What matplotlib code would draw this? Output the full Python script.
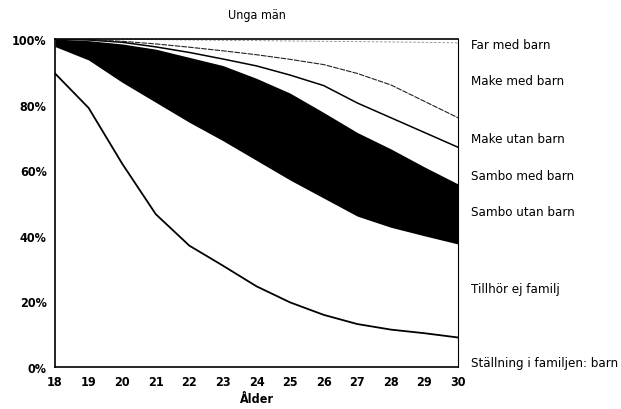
import numpy as np
import matplotlib
matplotlib.use("Agg")
import matplotlib.pyplot as plt
from matplotlib import font_manager

ages = [18, 19, 20, 21, 22, 23, 24, 25, 26, 27, 28, 29, 30]
barn = [89.5, 79, 62, 46.6, 37, 30.9, 24.6, 19.7, 15.9, 13.1, 11.4, 10.3, 9.0]
tillhor_ej = [8.2, 14.6, 24.8, 34.1, 37.6, 38.1, 38.4, 37.3, 35.6, 32.9, 31.2, 29.7, 28.5]
sambo_utan = [2.3, 5.9, 11.7, 16.2, 19.8, 22.9, 25.0, 26.5, 26.1, 25.5, 23.9, 21.0, 18.3]
sambo_med = [0, 0.2, 0.5, 0.7, 1.5, 2.0, 3.8, 5.5, 8.2, 9.0, 9.5, 10.5, 11.2]
make_utan = [0, 0.1, 0.3, 0.9, 1.6, 2.5, 3.4, 4.8, 6.4, 9.0, 10.0, 9.5, 9.0]
make_med = [0, 0.2, 0.6, 1.3, 2.2, 3.2, 4.3, 5.6, 7.1, 9.7, 13.1, 18.0, 22.8]
far_med = [0, 0, 0.1, 0.2, 0.3, 0.4, 0.5, 0.6, 0.7, 0.8, 0.9, 1.0, 1.2]

series_labels = ["Ställning i familjen: barn", "Tillhör ej familj", "Sambo utan barn",
                 "Sambo med barn", "Make utan barn", "Make med barn", "Far med barn"]
label_y = [1.5, 23.8, 47.3, 58.5, 69.8, 87.2, 98.2]
yticks = [0, 20, 40, 60, 80, 100]
ytick_labels = ["0%", "20%", "40%", "60%", "80%", "100%"]

cond = [f for f in font_manager.fontManager.ttflist
        if f.name == 'DejaVu Sans' and 'ondensed' in (f.fname or '')]
plt.rcParams['font.family'] = ['DejaVu Sans']
plt.rcParams['font.stretch'] = 'condensed' if cond else 'normal'

fig = plt.figure(figsize=(6.21, 4.10), dpi=100)
ax = fig.add_axes([55/621, 1-368/410, (458-55)/621, (368-40)/410])

x = np.array(ages)
layers = [barn, tillhor_ej, sambo_utan, sambo_med, make_utan, make_med, far_med]
cum = np.cumsum(np.array(layers, dtype=float), axis=0)

ax.fill_between(x, cum[1], cum[2], color='black', lw=0)
ax.plot(x, cum[0], color='black', lw=1.3)
ax.plot(x, cum[3], color='black', lw=1.1)
ax.plot(x, cum[4], color='#222222', lw=0.8, ls=(0, (5, 1)))
ax.plot(x, cum[5], color='#888888', lw=0.6, ls=(0, (3, 2)))

ax.set_xlim(18, 30)
ax.set_ylim(0, 100)
ax.set_xticks(ages)
ax.set_xticklabels([str(a) for a in ages], fontsize=9, fontweight='bold')
ax.set_yticks(yticks)
ax.set_yticklabels(ytick_labels, fontsize=9, fontweight='bold')
ax.tick_params(length=0, pad=6)
for s in ax.spines.values():
    s.set_color('black')
    s.set_linewidth(1.2)
ax.spines['right'].set_linestyle((0, (2, 1)))
ax.spines['right'].set_linewidth(0.8)

for lab, yy in zip(series_labels, label_y):
    ax.text(30.4, yy, lab, fontsize=9.5, va='center', ha='left', clip_on=False)

ax.set_title("Unga män", fontsize=9, pad=15)
ax.set_xlabel("Ålder", fontsize=9, fontweight='bold', labelpad=3)

fig.savefig("out.png", dpi=100)
